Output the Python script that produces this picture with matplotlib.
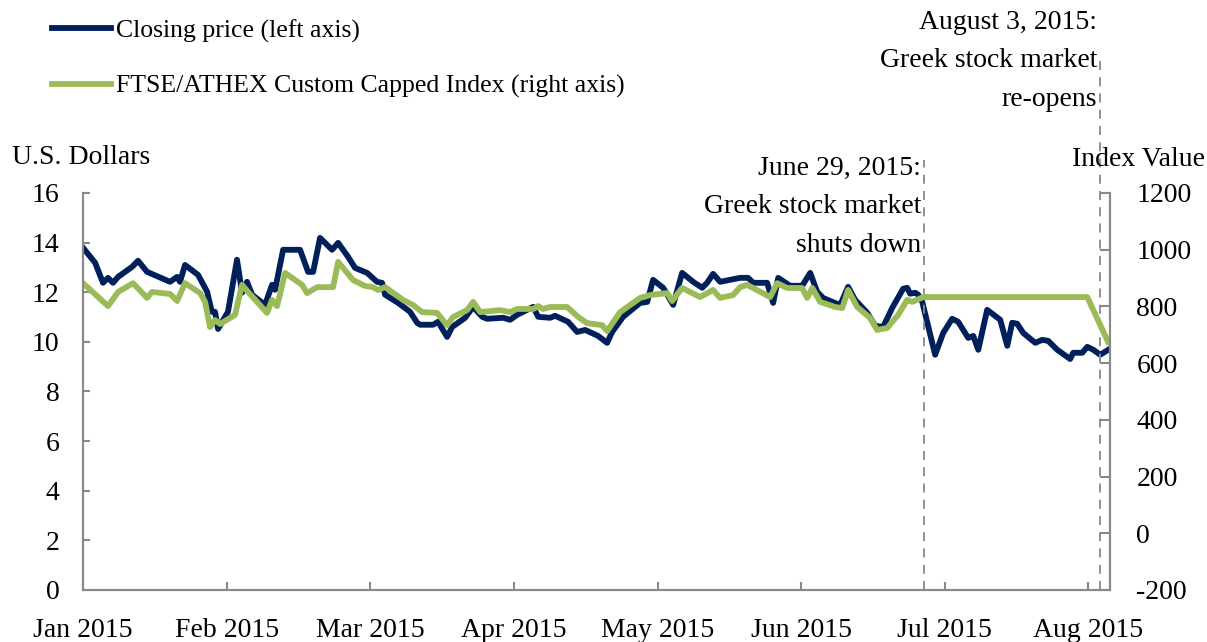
import matplotlib
matplotlib.use('Agg')
import matplotlib.pyplot as plt

# %% DATA
# x positions are months since 1 Jan 2015 (0 = Jan, 1 = Feb, ...)
price_t = [0.000, 0.084, 0.139, 0.174, 0.209, 0.244, 0.341, 0.383, 0.446, 0.606,
           0.655, 0.675, 0.710, 0.801, 0.864, 0.897, 0.919, 0.940, 1.009, 1.072,
           1.107, 1.142, 1.177, 1.267, 1.316, 1.337, 1.393, 1.511, 1.567, 1.602,
           1.650, 1.734, 1.776, 1.845, 1.894, 1.978, 2.047, 2.082, 2.103, 2.194,
           2.277, 2.326, 2.347, 2.437, 2.472, 2.535, 2.570, 2.660, 2.716, 2.779,
           2.813, 2.925, 2.974, 3.022, 3.134, 3.169, 3.252, 3.287, 3.377, 3.440,
           3.496, 3.586, 3.649, 3.684, 3.760, 3.879, 3.928, 3.969, 4.039, 4.109,
           4.171, 4.248, 4.311, 4.345, 4.387, 4.436, 4.575, 4.631, 4.666, 4.763,
           4.805, 4.840, 4.923, 5.007, 5.063, 5.111, 5.153, 5.251, 5.272, 5.327,
           5.376, 5.460, 5.515, 5.571, 5.634, 5.710, 5.738, 5.759, 5.794, 5.815,
           5.843, 5.933, 5.989, 6.051, 6.093, 6.163, 6.198, 6.233, 6.295, 6.386,
           6.435, 6.469, 6.504, 6.546, 6.630, 6.678, 6.720, 6.783, 6.873, 6.894,
           6.957, 6.992, 7.034, 7.082, 7.138]
price = [13.79, 13.19, 12.38, 12.58, 12.38, 12.62, 13.02, 13.27, 12.82, 12.42,
         12.62, 12.42, 13.10, 12.70, 12.02, 11.21, 11.21, 10.52, 11.21, 13.31,
         11.98, 12.42, 11.90, 11.49, 12.30, 12.10, 13.71, 13.71, 12.82, 12.82,
         14.19, 13.71, 13.99, 13.43, 12.98, 12.78, 12.42, 12.38, 11.90, 11.57,
         11.21, 10.77, 10.69, 10.69, 10.81, 10.20, 10.60, 10.97, 11.41, 11.01,
         10.93, 10.97, 10.89, 11.09, 11.41, 11.01, 10.97, 11.05, 10.81, 10.40,
         10.48, 10.24, 9.96, 10.40, 11.01, 11.57, 11.61, 12.50, 12.18, 11.49,
         12.78, 12.42, 12.18, 12.38, 12.74, 12.42, 12.58, 12.58, 12.38, 12.38,
         11.57, 12.58, 12.26, 12.26, 12.78, 12.02, 11.77, 11.53, 11.49, 12.22,
         11.69, 11.17, 10.65, 10.60, 11.37, 12.14, 12.18, 11.94, 11.98, 11.90,
         11.61, 9.48, 10.36, 10.93, 10.81, 10.16, 10.24, 9.68, 11.29, 10.89,
         9.84, 10.77, 10.73, 10.36, 9.96, 10.08, 10.04, 9.68, 9.31, 9.56,
         9.56, 9.80, 9.68, 9.48, 9.68]

index_t = [0.000, 0.174, 0.244, 0.348, 0.446, 0.480, 0.606, 0.655, 0.710, 0.815,
           0.850, 0.884, 0.919, 0.954, 1.058, 1.107, 1.149, 1.281, 1.316, 1.351,
           1.407, 1.525, 1.560, 1.630, 1.741, 1.776, 1.880, 1.964, 2.019, 2.054,
           2.103, 2.228, 2.298, 2.361, 2.465, 2.535, 2.577, 2.674, 2.716, 2.765,
           2.904, 2.974, 3.022, 3.134, 3.169, 3.203, 3.252, 3.370, 3.447, 3.510,
           3.614, 3.649, 3.740, 3.879, 3.948, 4.067, 4.102, 4.171, 4.297, 4.387,
           4.436, 4.526, 4.575, 4.624, 4.784, 4.833, 4.903, 5.007, 5.042, 5.077,
           5.132, 5.237, 5.286, 5.327, 5.390, 5.481, 5.529, 5.599, 5.675, 5.738,
           5.773, 5.850, 6.992, 7.138]
index_val = [882, 801, 851, 882, 830, 851, 844, 819, 882, 847,
             816, 727, 752, 738, 770, 876, 851, 777, 823, 801,
             918, 876, 847, 868, 868, 957, 893, 872, 868, 858,
             868, 823, 805, 780, 777, 734, 763, 787, 816, 780,
             787, 780, 791, 791, 801, 791, 798, 798, 763, 741,
             734, 713, 780, 830, 840, 847, 819, 865, 833, 858,
             830, 840, 868, 876, 833, 882, 865, 865, 830, 865,
             816, 798, 794, 858, 798, 759, 717, 724, 770, 823,
             816, 833, 833, 674]

month_labels = ['Jan 2015', 'Feb 2015', 'Mar 2015', 'Apr 2015',
                'May 2015', 'Jun 2015', 'Jul 2015', 'Aug 2015']
left_ticks = [0, 2, 4, 6, 8, 10, 12, 14, 16]
right_ticks = [-200, 0, 200, 400, 600, 800, 1000, 1200]

events_t = [5.856, 7.082]
events_text = ['June 29, 2015:\nGreek stock market\nshuts down',
               'August 3, 2015:\nGreek stock market\nre-opens']

# %% STYLE
plt.rcParams['font.family'] = ['Liberation Serif', 'DejaVu Serif']
plt.rcParams['font.size'] = 20
plt.rcParams['axes.unicode_minus'] = False
navy = '#00205B'
green = '#9BBB59'
axis_gray = '#898989'

fig = plt.figure(figsize=(12.07, 6.42), dpi=100)
ax = fig.add_axes([0.0688, 0.081, 0.8508, 0.6184])
ax2 = ax.twinx()

line1, = ax.plot(price_t, price, color=navy, lw=4.2, solid_joinstyle='round')
line2, = ax2.plot(index_t, index_val, color=green, lw=4.2, solid_joinstyle='round')

ax.set_xlim(0, 7.15)
ax.set_ylim(0, 16)
ax2.set_ylim(-200, 1200)
ax.set_xticks(range(len(month_labels)))
ax.set_xticklabels(month_labels)
ax.set_yticks(left_ticks)
ax2.set_yticks(right_ticks)

for a in (ax, ax2):
    a.spines['top'].set_visible(False)
    for s in ('left', 'right', 'bottom'):
        a.spines[s].set_color(axis_gray)
        a.spines[s].set_linewidth(1.5)
ax.tick_params(axis='x', direction='in', length=6, width=1.5, color=axis_gray, pad=20)
ax.tick_params(axis='y', direction='in', length=5, width=1.5, color=axis_gray, pad=17)
ax2.tick_params(axis='y', direction='in', length=7, width=1.5, color=axis_gray, pad=19)

ax.text(-0.069, 1.09, 'U.S. Dollars', transform=ax.transAxes, ha='left', va='center')
ax2.text(1.0925, 1.085, 'Index Value', transform=ax.transAxes, ha='right', va='center')

# event markers: dashed line plus right-aligned note
tops = [1.083, 1.348]
mids = [0.965, 1.3325]
for t, txt, top, mid in zip(events_t, events_text, tops, mids):
    ax.axvline(t, ymin=0, ymax=top, color=axis_gray, lw=1.3, ls=(0, (5, 4)),
               clip_on=False, zorder=5)
    ax.text(t - 0.02, mid, txt, transform=ax.get_xaxis_transform(),
            ha='right', va='center', linespacing=1.72)

fig.legend([line1, line2],
           ['Closing price (left axis)', 'FTSE/ATHEX Custom Capped Index (right axis)'],
           loc='upper left', bbox_to_anchor=(0.043, 0.970), frameon=False,
           fontsize=18.5, handlelength=2.3, handletextpad=0.2, labelspacing=1.25,
           borderpad=0, borderaxespad=0)

fig.savefig('out.png', dpi=100)
